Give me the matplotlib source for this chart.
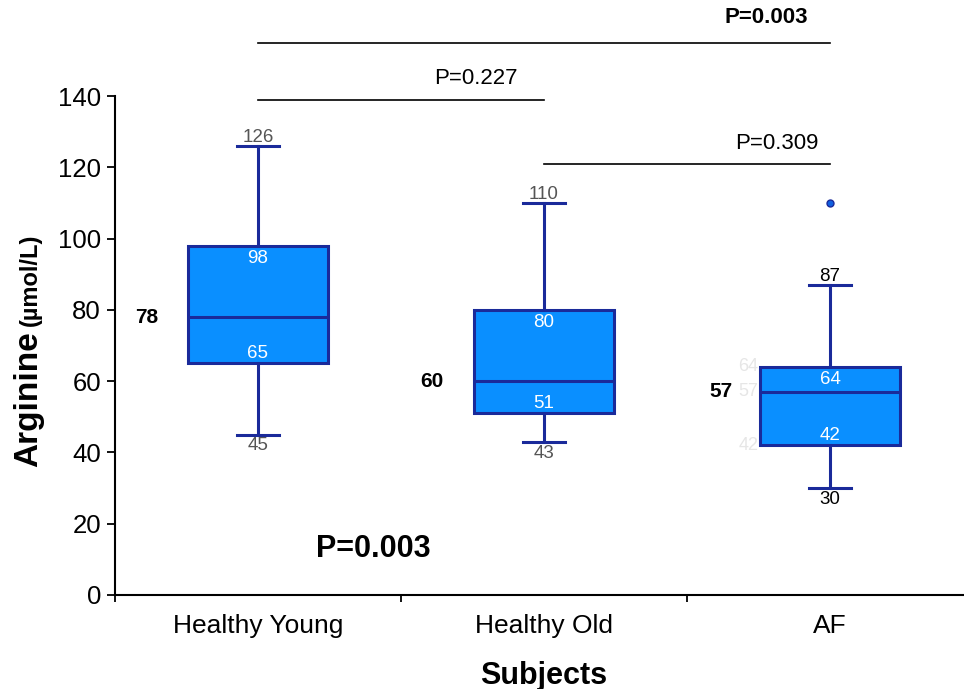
import matplotlib
matplotlib.use("Agg")
import matplotlib.pyplot as plt

plt.rcParams['font.family'] = ['Liberation Sans', 'DejaVu Sans']

# data
categories = ['Healthy Young', 'Healthy Old', 'AF']
medians = [78, 60, 57]
q1 = [65, 51, 42]
q3 = [98, 80, 64]
whisk_lo = [45, 43, 30]
whisk_hi = [126, 110, 87]
outliers = [[], [], [110]]

# pairwise comparisons: (group a, group b, label, bar height)
pairs = [(0, 2, 'P=0.003', 155), (0, 1, 'P=0.227', 139), (1, 2, 'P=0.309', 121)]
overall_p = 'P=0.003'

FILL = '#0a8fff'
EDGE = '#1a2a9a'
W, H = 964, 689

fig = plt.figure(figsize=(W / 100, H / 100), dpi=100)
ax = fig.add_axes([115 / W, 1 - 595 / H, 858 / W, 165 * 3.564 / H])

positions = [0.5, 1.5, 2.5]
stats = []
for i, name in enumerate(categories):
    stats.append(dict(label=name, med=medians[i], q1=q1[i], q3=q3[i],
                      whislo=whisk_lo[i], whishi=whisk_hi[i], fliers=outliers[i]))

ax.bxp(stats, positions=positions, widths=0.49, patch_artist=True,
       boxprops=dict(facecolor=FILL, edgecolor=EDGE, linewidth=2.2),
       medianprops=dict(color=EDGE, linewidth=2.2),
       whiskerprops=dict(color=EDGE, linewidth=2.2),
       capprops=dict(color=EDGE, linewidth=2.2),
       capwidths=0.15,
       flierprops=dict(marker='o', markersize=5, markerfacecolor='#1060e0',
                       markeredgecolor=EDGE, markeredgewidth=1))

ax.set_xlim(0, 3)
ax.set_ylim(0, 165)
ax.spines['top'].set_visible(False)
ax.spines['right'].set_visible(False)
ax.spines['left'].set_bounds(0, 140)
ax.spines['left'].set_linewidth(1.5)
ax.spines['bottom'].set_linewidth(1.5)
ax.set_yticks(range(0, 141, 20))
ax.tick_params(axis='y', labelsize=18.5, length=6, width=1.3, pad=4)
ax.set_xticks([0, 1, 2, 3])
ax.set_xticklabels([])
ax.tick_params(axis='x', which='major', length=5, width=1.3)
ax.set_xticks(positions, minor=True)
ax.set_xticklabels(categories, minor=True)
ax.tick_params(axis='x', which='minor', length=0, labelsize=19, pad=14)

ax.set_xlabel('Subjects', fontsize=22, fontweight='bold', labelpad=16)

# y label in two sizes, laid end to end along one baseline
t1 = fig.text(37 / W, 1 - 467 / H, 'Arginine', rotation=90, rotation_mode='anchor',
              fontsize=24, fontweight='bold', ha='left', va='baseline')
fig.canvas.draw()
bb = t1.get_window_extent()
fig.text(37 / W, (bb.y1 + 5) / H, '(µmol/L)', rotation=90, rotation_mode='anchor',
         fontsize=17, fontweight='bold', ha='left', va='baseline')

cap_colors = ['#555555', '#555555', 'black']
median_x = [0.112, 1.108, 2.12]
for i, x in enumerate(positions):
    ax.annotate(str(whisk_hi[i]), (x, whisk_hi[i]), xytext=(0, 0), textcoords='offset points',
                ha='center', va='bottom', fontsize=13.5, color=cap_colors[i])
    ax.annotate(str(whisk_lo[i]), (x, whisk_lo[i]), xytext=(0, -2), textcoords='offset points',
                ha='center', va='top', fontsize=13.5, color=cap_colors[i])
    ax.annotate(str(q3[i]), (x, q3[i]), xytext=(0, -3), textcoords='offset points',
                ha='center', va='top', fontsize=13.5, color='white')
    ax.annotate(str(q1[i]), (x, q1[i]), xytext=(0, 1), textcoords='offset points',
                ha='center', va='bottom', fontsize=13.5, color='white')
    ax.text(median_x[i], medians[i], str(medians[i]), ha='center', va='center',
            fontsize=15, fontweight='bold')

# faint duplicate labels beside the AF box
for v in (q3[2], medians[2], q1[2]):
    ax.text(2.25, v, str(v), ha='right', va='center', fontsize=13, color='#e6e6e6')

for a, b, label, h in pairs:
    ax.plot([positions[a], positions[b]], [h, h], color='black', lw=1.2, clip_on=False)
ax.text(1.262, 145, pairs[1][2], ha='center', va='center', fontsize=16)
ax.text(2.315, 126.8, pairs[2][2], ha='center', va='center', fontsize=16)
ax.text(2.276, 162, pairs[0][2], ha='center', va='center', fontsize=16, fontweight='bold')

ax.text(0.902, 13, overall_p, ha='center', va='center', fontsize=22, fontweight='bold')

fig.savefig('out.png', dpi=100)
